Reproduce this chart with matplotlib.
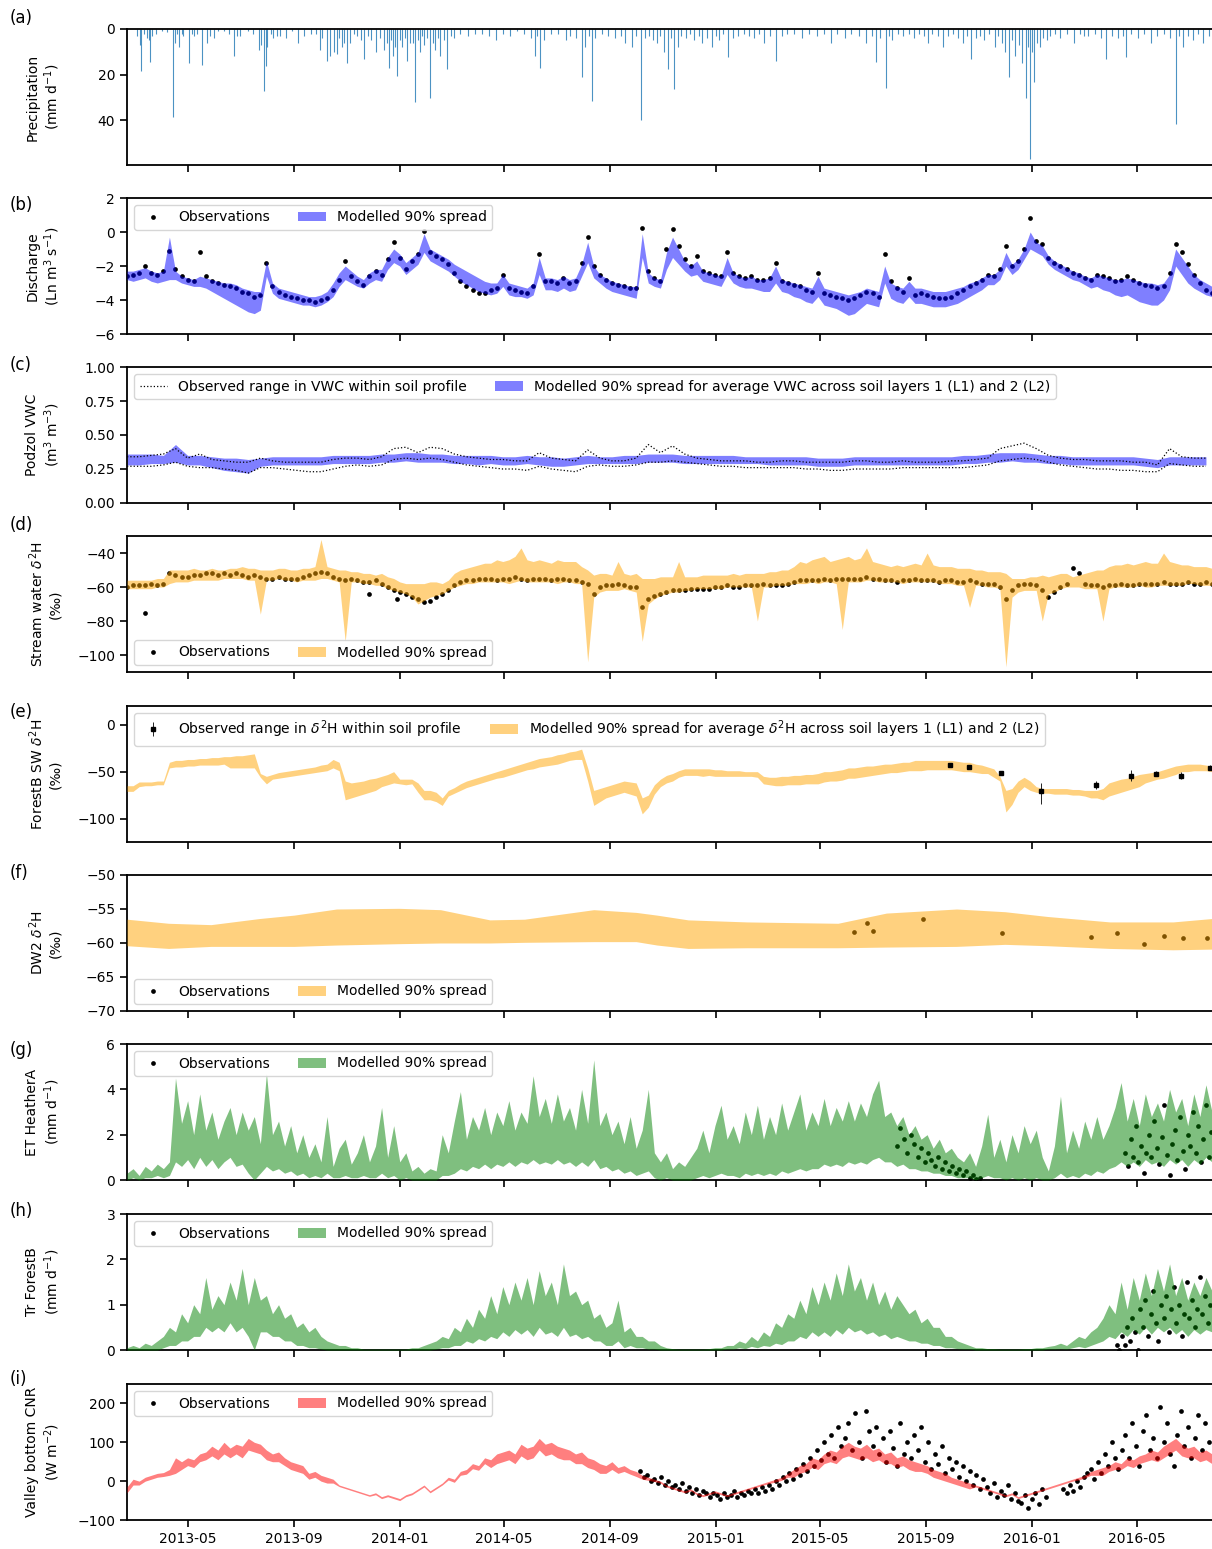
import numpy as np
import pandas as pd
import matplotlib
matplotlib.use('Agg')
import matplotlib.pyplot as plt
import matplotlib.dates as mdates

# time axis: everything is indexed from the start date of the run
START = pd.Timestamp('2013-02-20')
END = pd.Timestamp('2016-07-27')

# ---------------- (a) precipitation, (day since START, mm/d)
precip_events = [
    (11, 3), (15, 7), (16, 18.3), (20, 2), (23, 4), (25, 5), (27, 14.6), (29, 3), (34, 2), (40, 1),
    (46, 1.5), (53, 38.7), (55, 6), (58, 2), (60, 8), (63, 2), (65, 3), (72, 15), (75, 2), (77, 3),
    (81, 2), (87, 15.8), (92, 6), (96, 3), (100, 4), (105, 1), (112, 1), (118, 2), (123, 12), (127, 3),
    (131, 3), (140, 1), (146, 2), (153, 9), (155, 7), (158, 27.3), (160, 16), (162, 8), (166, 2), (169, 4),
    (173, 3), (177, 3), (184, 4), (190, 1), (198, 6), (204, 3), (212, 2), (218, 2), (223, 9), (225, 4),
    (231, 14), (235, 12), (239, 10), (242, 11), (245, 4), (248, 8), (251, 6), (254, 15), (258, 6), (262, 2),
    (266, 3), (270, 5), (274, 13), (278, 3), (282, 5), (287, 10), (292, 4), (297, 9), (300, 6), (302, 17),
    (305, 5), (307, 12), (310, 8), (312, 20.5), (315, 5), (318, 8), (321, 4), (323, 14), (327, 6), (330, 6),
    (333, 32), (336, 5), (338, 10), (341, 3), (343, 7), (346, 4), (350, 30.4), (353, 6), (356, 9), (359, 4),
    (362, 12), (366, 5), (370, 17.5), (374, 3), (378, 4), (385, 2), (394, 3), (402, 2), (410, 2), (418, 3),
    (426, 5), (434, 2), (442, 3), (450, 1), (458, 2), (466, 4), (471, 12), (474, 3), (477, 17), (482, 5),
    (490, 2), (498, 2), (507, 5), (512, 3), (518, 4), (525, 21), (529, 8), (533, 3), (537, 31.4), (541, 4),
    (548, 2), (555, 3), (563, 4), (570, 3), (575, 6), (583, 8), (588, 3), (594, 40), (598, 4), (603, 3),
    (607, 5), (612, 6), (616, 3), (620, 10), (625, 17.5), (628, 4), (632, 26.3), (636, 8), (640, 3), (645, 4),
    (650, 2), (655, 5), (660, 3), (664, 6), (670, 4), (676, 8), (680, 3), (684, 5), (688, 2), (694, 12.4),
    (700, 4), (706, 3), (712, 2), (718, 3), (724, 4), (730, 2), (736, 6), (742, 3), (749, 13.9), (756, 3),
    (762, 2), (770, 2), (780, 4), (788, 2), (797, 3), (805, 2), (813, 6), (820, 2), (829, 4), (836, 2),
    (845, 3), (853, 6), (860, 3), (865, 14.6), (870, 4), (877, 26), (880, 3), (884, 5), (890, 2), (896, 3),
    (903, 2), (909, 4), (915, 2), (920, 3), (925, 6), (930, 2), (936, 3), (942, 8), (948, 3), (954, 2),
    (960, 4), (966, 6), (970, 3), (975, 13.2), (980, 4), (985, 3), (990, 5), (995, 2), (1002, 8), (1006, 3),
    (1010, 6), (1014, 10), (1018, 21.2), (1022, 5), (1026, 12), (1030, 7), (1034, 15), (1038, 30), (1041, 8), (1043, 56.7),
    (1045, 10), (1048, 23.4), (1051, 6), (1054, 8), (1058, 4), (1062, 5), (1066, 3), (1072, 2), (1078, 4), (1085, 2),
    (1094, 6), (1100, 2), (1105, 3), (1110, 3), (1118, 2), (1125, 4), (1131, 13.2), (1137, 3), (1144, 4), (1150, 3),
    (1154, 12.4), (1160, 2), (1167, 4), (1175, 2), (1183, 6), (1190, 3), (1198, 2), (1205, 4), (1211, 41.7), (1215, 3),
    (1219, 8), (1225, 3), (1231, 5), (1237, 2), (1243, 6), (1249, 3),
]

# ---------------- (b) discharge, weekly values (Ln m3/s)
b_obs = [
    -2.6, -2.5, -2.4, -2.0, -2.4, -2.5, -2.3, -1.1, -2.2, -2.6,
    -2.8, -2.9, -1.2, -2.6, -2.9, -3.0, -3.1, -3.2, -3.3, -3.5,
    -3.6, -3.8, -3.7, -1.8, -3.2, -3.5, -3.7, -3.8, -3.9, -4.0,
    -4.0, -4.1, -4.0, -3.9, -3.4, -2.8, -1.7, -2.6, -2.9, -3.1,
    -2.6, -2.3, -2.5, -1.6, -0.6, -1.5, -2.2, -1.7, -1.3, 0.05,
    -1.2, -1.4, -1.6, -1.9, -2.4, -2.9, -3.2, -3.4, -3.6, -3.6,
    -3.4, -3.3, -2.5, -3.3, -3.4, -3.5, -3.6, -3.2, -1.3, -2.9,
    -2.9, -3.0, -2.7, -3.0, -2.9, -1.8, -0.3, -2.0, -2.5, -2.8,
    -3.0, -3.1, -3.2, -3.3, -3.3, 0.25, -2.3, -2.7, -2.9, -1.0,
    0.15, -0.8, -1.6, -2.0, -1.4, -2.3, -2.4, -2.5, -2.6, -1.2,
    -2.4, -2.6, -2.7, -2.6, -2.8, -2.8, -2.7, -1.8, -2.9, -3.0,
    -3.1, -3.2, -3.4, -3.5, -2.4, -3.6, -3.7, -3.8, -3.9, -4.0,
    -3.9, -3.7, -3.5, -3.6, -3.8, -1.3, -2.9, -3.3, -3.5, -2.7,
    -3.7, -3.6, -3.7, -3.8, -3.9, -3.9, -3.8, -3.6, -3.4, -3.2,
    -3.0, -2.8, -2.5, -2.6, -2.2, -0.8, -2.0, -1.7, -1.0, 0.8,
    -0.5, -0.7, -1.5, -1.8, -2.0, -2.2, -2.4, -2.5, -2.7, -2.8,
    -2.5, -2.6, -2.7, -2.9, -2.8, -2.6, -2.8, -3.0, -3.1, -3.2,
    -3.3, -3.2, -2.4, -0.7, -1.2, -1.9, -2.5, -3.0, -3.4, -3.6,
]
b_hi = [
    -2.3, -2.3, -2.2, -2.1, -2.3, -2.4, -2.3, -0.3, -2.3, -2.6,
    -2.7, -2.8, -2.6, -2.7, -2.8, -2.9, -3.0, -3.0, -3.1, -3.3,
    -3.4, -3.5, -3.5, -1.7, -3.0, -3.3, -3.4, -3.5, -3.6, -3.7,
    -3.8, -3.8, -3.7, -3.5, -3.0, -2.4, -2.0, -2.3, -2.6, -2.8,
    -2.4, -2.2, -2.2, -1.5, -1.0, -1.3, -1.8, -1.5, -1.2, -0.1,
    -1.0, -1.2, -1.4, -1.6, -1.9, -2.1, -2.3, -2.5, -2.7, -2.9,
    -3.0, -3.0, -2.5, -3.0, -3.1, -3.2, -3.3, -3.0, -1.5, -2.7,
    -2.7, -2.8, -2.6, -2.8, -2.7, -1.9, -0.6, -2.0, -2.5, -2.7,
    -2.9, -3.0, -3.1, -3.2, -3.2, -0.1, -2.4, -2.7, -2.8, -1.2,
    -0.3, -1.0, -1.7, -2.0, -1.7, -2.3, -2.4, -2.5, -2.6, -1.5,
    -2.4, -2.6, -2.7, -2.6, -2.8, -2.8, -2.7, -2.0, -2.8, -2.9,
    -3.0, -3.1, -3.2, -3.3, -2.6, -3.3, -3.4, -3.5, -3.6, -3.7,
    -3.6, -3.5, -3.3, -3.4, -3.5, -2.0, -3.0, -3.2, -3.3, -2.9,
    -3.3, -3.3, -3.4, -3.5, -3.5, -3.5, -3.4, -3.3, -3.2, -3.0,
    -2.9, -2.7, -2.5, -2.5, -2.2, -1.2, -1.9, -1.6, -1.0, 0.0,
    -0.6, -0.8, -1.4, -1.7, -1.9, -2.1, -2.3, -2.4, -2.6, -2.7,
    -2.5, -2.6, -2.7, -2.8, -2.8, -2.7, -2.8, -2.9, -3.0, -3.0,
    -3.1, -3.0, -2.5, -1.0, -1.5, -2.0, -2.5, -2.8, -3.0, -3.2,
]
b_lo = [
    -2.8, -2.9, -2.8, -2.7, -2.9, -3.0, -2.9, -2.8, -2.8, -3.0,
    -3.1, -3.2, -3.2, -3.3, -3.5, -3.7, -3.9, -4.1, -4.3, -4.5,
    -4.7, -4.8, -4.6, -2.6, -3.6, -3.9, -4.0, -4.1, -4.2, -4.3,
    -4.3, -4.4, -4.3, -4.1, -3.8, -3.2, -2.8, -3.0, -3.2, -3.3,
    -3.0, -2.8, -2.9, -2.2, -1.8, -2.0, -2.5, -2.2, -1.9, -1.2,
    -1.7, -1.9, -2.1, -2.3, -2.6, -2.9, -3.1, -3.3, -3.5, -3.6,
    -3.7, -3.6, -3.2, -3.7, -3.8, -3.8, -3.9, -3.7, -2.5, -3.4,
    -3.4, -3.5, -3.3, -3.5, -3.4, -2.6, -1.8, -2.7, -3.0, -3.3,
    -3.5, -3.6, -3.7, -3.8, -3.9, -1.5, -3.0, -3.2, -3.3, -2.2,
    -1.5, -1.9, -2.3, -2.6, -2.5, -2.9, -3.0, -3.1, -3.2, -2.5,
    -3.0, -3.2, -3.3, -3.3, -3.4, -3.5, -3.5, -3.0, -3.5, -3.6,
    -3.8, -3.9, -4.1, -4.2, -3.8, -4.3, -4.4, -4.5, -4.7, -4.9,
    -4.8, -4.5, -4.2, -4.3, -4.4, -3.0, -3.9, -4.1, -4.2, -3.8,
    -4.2, -4.2, -4.3, -4.4, -4.4, -4.4, -4.3, -4.2, -4.0, -3.8,
    -3.6, -3.4, -3.1, -3.1, -2.8, -2.0, -2.5, -2.2, -1.6, -1.0,
    -1.2, -1.4, -1.9, -2.2, -2.4, -2.6, -2.8, -2.9, -3.1, -3.3,
    -3.2, -3.4, -3.5, -3.7, -3.8, -3.7, -3.9, -4.1, -4.2, -4.3,
    -4.3, -4.0, -3.4, -2.0, -2.5, -3.0, -3.3, -3.5, -3.7, -3.8,
]

# ---------------- (c) podzol VWC, fortnightly values
c_hi = [
    .36, .36, .36, .35, .43, .35, .35, .34, .33, .33,
    .32, .33, .34, .34, .34, .34, .34, .35, .35, .35,
    .35, .36, .36, .37, .37, .36, .36, .35, .35, .35,
    .35, .34, .34, .35, .34, .34, .33, .34, .35, .34,
    .34, .35, .35, .36, .36, .36, .35, .35, .35, .35,
    .35, .34, .34, .34, .34, .34, .34, .33, .33, .33,
    .34, .34, .34, .34, .34, .34, .34, .34, .34, .35,
    .35, .36, .37, .37, .37, .36, .35, .35, .34, .34,
    .34, .34, .34, .34, .33, .32, .34, .34, .34, .34,
]
c_lo = [
    .28, .28, .29, .29, .30, .28, .28, .26, .24, .23,
    .22, .27, .28, .28, .28, .28, .28, .29, .29, .29,
    .29, .30, .30, .31, .30, .30, .30, .29, .29, .28,
    .29, .28, .28, .29, .28, .27, .27, .28, .29, .29,
    .29, .29, .29, .30, .30, .30, .29, .29, .29, .29,
    .29, .29, .29, .28, .28, .28, .28, .27, .27, .27,
    .28, .28, .28, .28, .28, .28, .28, .28, .28, .29,
    .29, .30, .30, .31, .30, .30, .29, .29, .28, .28,
    .28, .28, .28, .28, .27, .26, .28, .28, .28, .28,
]
c_obs_max = [
    .34, .34, .35, .36, .40, .33, .36, .32, .31, .30,
    .30, .33, .31, .30, .30, .30, .30, .32, .33, .33,
    .32, .34, .40, .41, .37, .41, .40, .36, .34, .33,
    .32, .32, .31, .31, .37, .33, .32, .31, .39, .33,
    .31, .31, .33, .43, .37, .42, .36, .33, .32, .31,
    .31, .31, .30, .30, .31, .31, .30, .30, .30, .30,
    .31, .31, .30, .30, .31, .30, .30, .30, .31, .31,
    .32, .33, .40, .42, .44, .40, .35, .33, .32, .32,
    .31, .31, .31, .30, .30, .28, .40, .34, .33, .33,
]
c_obs_min = [
    .27, .27, .27, .28, .30, .27, .26, .26, .25, .24,
    .22, .26, .26, .25, .24, .23, .23, .25, .27, .28,
    .27, .28, .32, .33, .32, .33, .32, .30, .28, .27,
    .26, .25, .25, .24, .27, .25, .24, .23, .27, .28,
    .27, .27, .28, .30, .30, .31, .30, .29, .28, .27,
    .27, .26, .26, .26, .26, .26, .25, .25, .24, .24,
    .25, .25, .25, .25, .26, .26, .26, .26, .26, .26,
    .27, .28, .31, .32, .33, .32, .30, .28, .27, .26,
    .25, .25, .24, .24, .23, .23, .29, .28, .27, .27,
]

# ---------------- (d) stream water d2H, weekly values
d_hi = [
    -56, -56, -56, -56, -56, -55, -55, -50, -50, -50,
    -50, -49, -50, -50, -49, -50, -50, -49, -49, -48,
    -49, -49, -50, -50, -50, -49, -49, -50, -50, -49,
    -49, -48, -32, -48, -49, -50, -50, -51, -51, -52,
    -52, -53, -52, -54, -55, -57, -58, -58, -58, -58,
    -57, -57, -58, -56, -52, -50, -49, -48, -47, -46,
    -46, -44, -45, -44, -42, -37, -44, -45, -44, -45,
    -46, -44, -45, -45, -45, -48, -50, -53, -52, -52,
    -53, -45, -52, -53, -52, -55, -55, -55, -54, -54,
    -54, -45, -54, -54, -54, -53, -53, -53, -53, -53,
    -52, -53, -52, -52, -52, -52, -51, -51, -50, -50,
    -48, -45, -46, -44, -43, -42, -45, -44, -43, -42,
    -44, -43, -37, -45, -46, -47, -48, -47, -48, -47,
    -46, -47, -40, -47, -48, -48, -48, -49, -49, -49,
    -50, -50, -51, -51, -51, -52, -55, -55, -55, -54,
    -54, -53, -54, -53, -52, -52, -54, -53, -52, -51,
    -50, -50, -48, -47, -47, -46, -47, -46, -45, -46,
    -46, -40, -45, -46, -47, -47, -48, -48, -48, -49,
]
d_lo = [
    -61, -61, -61, -61, -61, -60, -60, -58, -57, -57,
    -57, -56, -56, -56, -56, -56, -55, -55, -55, -55,
    -56, -56, -76, -56, -56, -55, -56, -56, -57, -56,
    -56, -56, -55, -55, -56, -57, -92, -57, -57, -58,
    -58, -59, -59, -61, -62, -63, -64, -66, -70, -68,
    -66, -65, -64, -62, -60, -59, -58, -58, -57, -57,
    -57, -57, -57, -58, -57, -56, -57, -57, -57, -57,
    -57, -58, -57, -57, -58, -58, -104, -66, -63, -62,
    -62, -62, -61, -62, -63, -92, -70, -67, -65, -64,
    -63, -63, -62, -62, -61, -61, -61, -61, -61, -60,
    -60, -60, -60, -60, -80, -60, -60, -59, -59, -59,
    -58, -58, -58, -57, -58, -57, -57, -58, -85, -57,
    -57, -57, -56, -56, -57, -57, -57, -57, -58, -57,
    -57, -57, -57, -57, -58, -58, -58, -59, -59, -72,
    -59, -59, -60, -60, -61, -107, -66, -63, -62, -62,
    -62, -80, -64, -63, -61, -60, -60, -60, -61, -61,
    -61, -80, -61, -60, -60, -60, -60, -59, -60, -60,
    -59, -59, -59, -59, -59, -58, -58, -59, -59, -59,
]
d_obs = [
    -60, -59, -59, -59, -58, -59, -58, -52, -53, -54,
    -54, -53, -53, -52, -52, -53, -52, -53, -52, -53,
    -54, -53, -54, -55, -55, -54, -55, -55, -55, -54,
    -53, -52, -51, -52, -54, -55, -56, -55, -56, -57,
    -57, -56, -58, -60, -62, -63, -64, -66, -67, -69,
    -68, -66, -64, -62, -59, -57, -56, -56, -55, -55,
    -55, -56, -55, -55, -54, -55, -56, -55, -55, -55,
    -56, -55, -55, -56, -56, -57, -58, -64, -60, -59,
    -59, -58, -59, -60, -60, -72, -67, -65, -64, -63,
    -62, -62, -62, -61, -61, -61, -61, -60, -60, -59,
    -60, -60, -59, -59, -59, -58, -59, -59, -59, -58,
    -57, -56, -56, -56, -56, -55, -56, -55, -55, -55,
    -55, -55, -54, -55, -55, -56, -56, -57, -56, -56,
    -55, -56, -56, -56, -57, -56, -56, -57, -57, -56,
    -57, -58, -58, -58, -60, -67, -62, -59, -58, -58,
    -59, -62, -66, -63, -60, -58, -49, -52, -58, -59,
    -59, -60, -59, -59, -58, -59, -59, -58, -58, -58,
    -58, -57, -58, -58, -58, -57, -58, -58, -57, -58,
]
d_out_day = [21, 280, 312]
d_out = [-75, -64, -67]

# ---------------- (e) ForestB soil water d2H, weekly values
e_hi = [
    -65, -65, -61, -61, -61, -60, -60, -40, -38, -38,
    -37, -37, -36, -36, -35, -35, -34, -34, -33, -33,
    -32, -31, -52, -55, -53, -51, -50, -49, -48, -47,
    -46, -45, -43, -42, -37, -40, -60, -62, -61, -60,
    -58, -57, -55, -53, -50, -58, -58, -58, -62, -70,
    -70, -72, -78, -70, -67, -63, -60, -58, -56, -54,
    -52, -50, -48, -46, -44, -42, -40, -38, -36, -35,
    -34, -32, -31, -29, -28, -26, -46, -70, -68, -66,
    -64, -62, -60, -61, -62, -78, -75, -64, -58, -54,
    -52, -49, -47, -47, -47, -47, -47, -48, -48, -49,
    -49, -49, -50, -50, -50, -55, -56, -56, -55, -55,
    -54, -54, -53, -53, -52, -50, -50, -49, -48, -46,
    -46, -45, -44, -44, -43, -42, -42, -41, -40, -40,
    -38, -38, -38, -38, -38, -38, -38, -39, -40, -40,
    -42, -43, -45, -47, -55, -70, -68, -60, -56, -60,
    -66, -68, -68, -68, -68, -68, -69, -69, -70, -70,
    -70, -68, -62, -60, -58, -57, -55, -53, -52, -51,
    -50, -48, -46, -44, -43, -42, -42, -42, -43, -44,
]
e_lo = [
    -71, -71, -66, -65, -65, -64, -64, -46, -45, -45,
    -44, -44, -43, -43, -43, -43, -42, -46, -46, -46,
    -46, -46, -56, -63, -58, -57, -56, -55, -54, -53,
    -52, -51, -50, -49, -46, -49, -80, -78, -76, -74,
    -72, -70, -66, -64, -62, -63, -64, -63, -72, -80,
    -80, -82, -86, -76, -73, -70, -67, -65, -63, -61,
    -59, -57, -56, -54, -52, -50, -48, -47, -45, -44,
    -43, -42, -40, -38, -37, -37, -60, -86, -82, -78,
    -76, -74, -72, -74, -76, -95, -88, -74, -66, -62,
    -60, -56, -54, -54, -54, -55, -54, -55, -55, -55,
    -55, -55, -55, -55, -56, -63, -64, -65, -65, -64,
    -64, -64, -63, -63, -63, -61, -60, -60, -59, -57,
    -57, -56, -55, -54, -53, -52, -51, -51, -50, -49,
    -49, -49, -48, -48, -48, -48, -48, -49, -50, -50,
    -51, -52, -52, -56, -60, -93, -85, -72, -66, -70,
    -72, -73, -73, -74, -74, -74, -75, -75, -76, -78,
    -78, -80, -76, -74, -72, -70, -68, -66, -62, -60,
    -58, -57, -55, -53, -50, -50, -49, -49, -49, -50,
]
e_obs_day = [951, 972, 1009, 1055, 1119, 1159, 1188, 1217, 1251]
e_obs = [-43, -45, -51, -71, -64, -55, -52, -55, -46]
e_obs_lo = [-44, -47, -53, -85, -68, -60, -54, -58, -48]
e_obs_hi = [-42, -44, -49, -62, -60, -48, -49, -50, -43]

# ---------------- (f) DW2 d2H
f_day = [0, 48, 97, 153, 193, 242, 314, 362, 419, 459, 539, 588,
         612, 648, 716, 821, 877, 958, 1014, 1063, 1135, 1208, 1253]
f_hi = [-56.5, -57.1, -57.3, -56.4, -55.9, -55.0, -54.9, -55.1, -56.6, -56.5, -55.1, -55.5,
        -55.9, -56.6, -56.9, -57.1, -55.6, -55.0, -55.4, -56.1, -56.9, -56.9, -56.4]
f_lo = [-60.4, -60.8, -60.5, -60.5, -60.5, -60.3, -60.1, -60.0, -60.0, -59.9, -59.8, -59.8,
        -60.3, -60.8, -60.7, -60.7, -60.6, -60.5, -60.2, -60.4, -60.8, -61.0, -60.9]
f_obs_day = [839, 855, 862, 919, 1010, 1113, 1143, 1175, 1198, 1219, 1247]
f_obs = [-58.4, -57.0, -58.2, -56.4, -58.6, -59.1, -58.6, -60.2, -59.0, -59.2, -59.3]

# ---------------- (g) ET HeatherA, weekly values (mm/d)
g_hi = [
    0.3, 0.5, 0.2, 0.6, 0.4, 0.7, 0.5, 0.8, 4.5, 2.5,
    3.5, 2.0, 3.8, 2.2, 3.0, 1.8, 2.6, 3.2, 2.0, 3.0,
    2.2, 2.8, 1.6, 4.7, 2.0, 2.6, 1.5, 2.4, 1.2, 2.0,
    1.0, 1.6, 0.8, 2.8, 0.6, 1.4, 1.8, 0.7, 1.2, 2.0,
    0.8, 1.5, 3.2, 1.0, 2.4, 0.8, 1.2, 0.4, 0.6, 0.3,
    0.5, 0.4, 2.0, 1.2, 2.6, 3.9, 1.8, 2.8, 2.2, 3.2,
    2.0, 3.0, 2.4, 3.5, 2.2, 3.0, 2.5, 4.6, 2.8, 3.6,
    2.5, 3.8, 2.6, 3.2, 2.2, 4.0, 2.5, 5.3, 2.4, 3.0,
    2.0, 2.6, 1.6, 2.8, 1.4, 2.2, 4.0, 1.2, 0.8, 1.2,
    0.5, 0.8, 0.6, 1.0, 1.4, 2.2, 1.2, 2.4, 3.3, 1.8,
    2.4, 1.6, 3.0, 2.0, 3.3, 1.8, 2.8, 2.0, 3.4, 2.2,
    3.0, 3.8, 2.2, 3.0, 2.4, 3.6, 2.4, 3.2, 2.6, 3.5,
    2.6, 3.4, 2.8, 3.8, 4.4, 2.8, 3.0, 2.4, 2.8, 2.0,
    2.4, 1.8, 2.0, 1.4, 1.8, 1.2, 1.4, 1.0, 0.8, 1.2,
    0.6, 1.5, 2.9, 1.0, 1.8, 0.8, 2.0, 1.2, 2.4, 1.6,
    2.2, 1.0, 0.4, 1.5, 3.7, 1.2, 2.2, 1.4, 2.6, 1.8,
    2.8, 1.8, 2.4, 3.2, 4.3, 2.6, 3.6, 2.4, 3.8, 2.8,
    3.4, 2.6, 4.0, 3.0, 3.6, 2.4, 3.8, 2.8, 4.2, 3.0,
]
g_lo = [
    0.0, 0.1, 0.0, 0.1, 0.1, 0.2, 0.1, 0.2, 0.8, 0.6,
    0.9, 0.5, 1.0, 0.6, 0.9, 0.5, 0.8, 1.0, 0.6, 0.7,
    0.3, 0.0, 0.3, 0.6, 0.4, 0.5, 0.3, 0.4, 0.2, 0.3,
    0.1, 0.2, 0.1, 0.3, 0.1, 0.1, 0.2, 0.1, 0.1, 0.2,
    0.1, 0.1, 0.3, 0.1, 0.2, 0.0, 0.1, 0.0, 0.0, 0.0,
    0.0, 0.0, 0.2, 0.2, 0.3, 0.5, 0.4, 0.6, 0.5, 0.7,
    0.5, 0.7, 0.6, 0.8, 0.6, 0.8, 0.7, 0.9, 0.7, 0.8,
    0.7, 0.9, 0.7, 0.8, 0.6, 0.8, 0.6, 0.9, 0.5, 0.6,
    0.4, 0.5, 0.3, 0.4, 0.2, 0.3, 0.4, 0.1, 0.0, 0.1,
    0.0, 0.0, 0.0, 0.0, 0.1, 0.2, 0.1, 0.2, 0.3, 0.2,
    0.2, 0.1, 0.3, 0.2, 0.3, 0.2, 0.3, 0.2, 0.4, 0.3,
    0.4, 0.5, 0.4, 0.5, 0.5, 0.7, 0.6, 0.7, 0.6, 0.8,
    0.7, 0.8, 0.7, 0.9, 1.0, 0.8, 0.8, 0.6, 0.7, 0.5,
    0.5, 0.4, 0.4, 0.3, 0.3, 0.2, 0.2, 0.1, 0.1, 0.1,
    0.0, 0.1, 0.2, 0.1, 0.1, 0.0, 0.1, 0.0, 0.1, 0.0,
    0.1, 0.0, 0.0, 0.1, 0.3, 0.1, 0.2, 0.1, 0.3, 0.2,
    0.4, 0.3, 0.5, 0.6, 0.8, 0.6, 0.8, 0.6, 0.9, 0.7,
    0.8, 0.6, 0.9, 0.7, 0.9, 0.6, 0.9, 0.7, 1.0, 0.8,
]
g_obs1 = [1.5, 2.3, 1.8, 1.2, 2.0, 1.6, 1.0, 1.4, 0.8, 1.2,
          0.9, 0.6, 1.0, 0.5, 0.8, 0.4, 0.6, 0.3, 0.5, 0.2,
          0.4, 0.1, 0.2, 0.05, 0.1]                      # every 4 days from day 889
g_obs2 = [1.2, 0.6, 1.8, 1.0, 2.4, 0.8, 1.5, 0.3, 1.2, 2.0,
          1.0, 2.6, 1.4, 0.7, 1.9, 3.3, 1.1, 0.2, 1.6, 2.2,
          0.9, 2.8, 1.3, 0.5, 2.0, 1.5, 3.0, 1.2, 2.4, 0.8,
          1.8, 3.3, 1.0, 2.1]                             # every 3 days from day 1153

# ---------------- (h) Tr ForestB, weekly values (mm/d)
h_hi = [
    0.05, 0.1, 0.05, 0.15, 0.1, 0.2, 0.3, 0.5, 0.4, 0.8,
    0.6, 1.0, 0.8, 1.6, 0.9, 1.2, 1.0, 1.5, 1.1, 1.8,
    1.0, 1.6, 1.1, 1.2, 0.8, 1.0, 0.7, 0.8, 0.5, 0.6,
    0.4, 0.5, 0.3, 0.2, 0.15, 0.1, 0.1, 0.05, 0.05, 0.02,
    0.02, 0.02, 0.02, 0.02, 0.02, 0.02, 0.02, 0.05, 0.05, 0.1,
    0.15, 0.2, 0.3, 0.25, 0.5, 0.4, 0.7, 0.5, 0.9, 0.7,
    1.2, 0.8, 1.4, 1.0, 1.5, 1.1, 1.6, 1.0, 1.75, 1.2,
    1.5, 1.0, 1.9, 1.2, 1.3, 1.0, 1.1, 0.7, 0.8, 0.5,
    0.6, 1.1, 0.4, 0.5, 0.3, 0.3, 0.2, 0.2, 0.1, 0.05,
    0.03, 0.02, 0.02, 0.02, 0.02, 0.02, 0.03, 0.05, 0.05, 0.1,
    0.1, 0.2, 0.15, 0.3, 0.2, 0.4, 0.3, 0.6, 0.5, 0.8,
    0.7, 1.1, 0.8, 1.4, 1.0, 1.5, 1.1, 1.7, 1.2, 1.9,
    1.3, 1.6, 1.1, 1.5, 1.0, 1.3, 0.9, 1.2, 1.0, 0.8,
    0.9, 0.6, 0.7, 0.5, 0.5, 0.3, 0.3, 0.2, 0.15, 0.1,
    0.05, 0.05, 0.03, 0.03, 0.02, 0.02, 0.02, 0.02, 0.03, 0.03,
    0.05, 0.05, 0.08, 0.1, 0.15, 0.1, 0.2, 0.3, 0.25, 0.4,
    0.5, 0.7, 1.0, 0.8, 1.5, 0.9, 1.6, 1.1, 1.7, 1.2,
    1.8, 1.3, 1.9, 1.2, 1.6, 1.1, 1.5, 1.2, 1.6, 1.3,
]
h_lo = [
    0, 0, 0, 0, 0, 0, 0.05, 0.1, 0.1, 0.2,
    0.2, 0.3, 0.3, 0.5, 0.4, 0.5, 0.4, 0.6, 0.4, 0.5,
    0.3, 0.0, 0.4, 0.4, 0.3, 0.3, 0.2, 0.2, 0.1, 0.1,
    0.05, 0.05, 0.02, 0, 0, 0, 0, 0, 0, 0,
    0, 0, 0, 0, 0, 0, 0, 0, 0, 0,
    0, 0.02, 0.05, 0.05, 0.1, 0.1, 0.2, 0.15, 0.25, 0.2,
    0.3, 0.25, 0.4, 0.3, 0.45, 0.35, 0.45, 0.3, 0.5, 0.35,
    0.4, 0.3, 0.5, 0.3, 0.35, 0.25, 0.3, 0.2, 0.2, 0.1,
    0.1, 0.2, 0.05, 0.1, 0.05, 0.05, 0.02, 0.02, 0, 0,
    0, 0, 0, 0, 0, 0, 0, 0, 0, 0.02,
    0.02, 0.05, 0.03, 0.08, 0.05, 0.1, 0.08, 0.15, 0.12, 0.2,
    0.2, 0.3, 0.25, 0.4, 0.3, 0.4, 0.3, 0.45, 0.35, 0.5,
    0.4, 0.45, 0.35, 0.4, 0.3, 0.35, 0.25, 0.3, 0.25, 0.2,
    0.2, 0.15, 0.15, 0.1, 0.1, 0.05, 0.05, 0.03, 0.02, 0.02,
    0, 0, 0, 0, 0, 0, 0, 0, 0, 0,
    0, 0, 0.02, 0.02, 0.03, 0.02, 0.05, 0.08, 0.05, 0.1,
    0.15, 0.2, 0.3, 0.25, 0.4, 0.3, 0.45, 0.35, 0.5, 0.35,
    0.5, 0.4, 0.5, 0.35, 0.45, 0.3, 0.45, 0.35, 0.45, 0.4,
]
h_obs = [0.1, 0.0, 0.3, 0.1, 0.5, 0.2, 0.7, 0.4, 0.0, 0.9,
         0.5, 1.1, 0.3, 0.8, 1.3, 0.6, 0.2, 1.0, 0.7, 1.2,
         0.4, 0.9, 1.4, 0.6, 1.0, 0.3, 0.8, 1.5, 0.7, 1.1,
         0.5, 0.9, 1.6, 0.8, 1.2, 0.6, 1.0]              # every 3 days from day 1143

# ---------------- (i) valley bottom CNR, weekly values (W/m2)
i_hi = [
    -15, 5, 0, 10, 15, 20, 22, 30, 60, 50,
    60, 55, 70, 75, 90, 80, 100, 85, 95, 90,
    110, 100, 95, 80, 70, 75, 60, 50, 45, 40,
    20, 25, 15, 10, 5, -10, -15, -20, -25, -30,
    -35, -30, -40, -35, -40, -45, -35, -30, -20, -10,
    -25, -15, -5, 10, 5, 25, 30, 45, 40, 60,
    55, 70, 75, 80, 70, 95, 85, 90, 110, 95,
    100, 90, 85, 80, 70, 75, 60, 55, 45, 40,
    50, 35, 40, 30, 25, 15, 10, 5, 0, -10,
    -15, -20, -25, -20, -30, -35, -30, -25, -30, -35,
    -30, -25, -20, -15, -10, -5, 0, 5, 10, 20,
    30, 40, 45, 60, 55, 70, 80, 75, 90, 100,
    90, 85, 95, 80, 85, 70, 75, 60, 65, 55,
    50, 45, 40, 30, 25, 20, 10, 5, 0, -5,
    -10, -15, -20, -25, -30, -35, -30, -40, -35, -30,
    -25, -20, -15, -10, -5, 0, 5, 10, 15, 25,
    30, 35, 40, 50, 45, 60, 55, 65, 70, 80,
    75, 90, 100, 110, 95, 85, 90, 75, 80, 70,
]
i_lo = [
    -30, -10, -10, 0, 5, 10, 12, 15, 20, 30,
    40, 35, 50, 55, 65, 55, 70, 60, 70, 60,
    80, 75, 70, 55, 50, 50, 40, 30, 25, 20,
    5, 10, 0, -5, -5, -14, -19, -24, -29, -34,
    -39, -35, -45, -40, -45, -50, -40, -35, -25, -15,
    -30, -20, -10, 3, -3, 15, 18, 32, 28, 45,
    35, 45, 50, 55, 45, 65, 55, 60, 80, 65,
    70, 60, 55, 55, 45, 45, 35, 30, 20, 20,
    30, 20, 25, 18, 12, 5, 2, -1, -5, -15,
    -20, -25, -30, -25, -35, -40, -35, -30, -35, -40,
    -35, -30, -25, -20, -15, -10, -6, -2, 2, 10,
    10, 20, 25, 35, 30, 45, 50, 45, 60, 65,
    60, 55, 60, 50, 55, 45, 45, 35, 40, 30,
    25, 25, 20, 10, 5, 0, -5, -10, -15, -20,
    -15, -20, -25, -30, -35, -40, -35, -45, -40, -35,
    -30, -25, -20, -15, -10, -5, 0, 3, 8, 15,
    15, 15, 25, 30, 30, 40, 35, 45, 50, 55,
    50, 60, 70, 80, 65, 60, 60, 50, 55, 45,
]
# every 4 days from day 593 (nan = no measurement)
i_obs = [
    25, 10, 15, 0, 5, -5, 10, -10, 0, -15,
    -10, -20, -5, -25, -15, -30, -20, -35, -25, -30,
    -40, -30, -35, -45, -30, -40, -35, -25, -40, -30,
    -35, -25, -30, -20, -30, -15, -25, -10, -20, 0,
    -10, 10, 0, 20, 5, 30, 15, 45, 25, 60,
    40, 80, 55, 100, 70, 120, 60, 140, 90, 110,
    150, 80, 175, 100, 60, 180, 130, 90, 140, 70,
    110, 50, 130, 85, 40, 150, 70, 100, 60, 120,
    80, 140, 50, 100, 30, 70, 45, 90, 20, 60,
    30, 50, 10, 40, 0, 25, -10, 15, -20, 5,
    -15, -30, -5, -40, -25, -35, -10, -45, -30, -50,
    -55, -35, -70, -45, -30, -60, -20, -40, np.nan, np.nan,
    np.nan, np.nan, -20, -30, -10, -25, 0, -15, 10, 20,
    30, 5, 50, 20, 70, 40, 100, 60, 30, 80,
    120, 60, 150, 90, 40, 130, 170, 80, 110, 60,
    190, 100, 150, 70, 40, 120, 180, 90, 140, 60,
    110, 170, 80, 150, 100,
]


def on_days(d):
    return START + pd.to_timedelta(np.asarray(d, dtype=float), unit='D')


weekly = pd.date_range(START, periods=len(b_obs), freq='7D')
fortnight = pd.date_range(START, periods=len(c_hi), freq='14D')

plt.rcParams.update({
    'font.family': ['DejaVu Sans'],
    'font.size': 10,
    'axes.linewidth': 1.3,
    'xtick.major.size': 5,
    'ytick.major.size': 5,
    'xtick.major.width': 1.2,
    'ytick.major.width': 1.2,
    'legend.fontsize': 10,
})

W, H = 1212, 1549
fig = plt.figure(figsize=(W / 100, H / 100), dpi=100)
tops = [29, 198, 367, 536, 706, 875, 1044, 1214, 1384]
label_y = [18, 205, 365, 525, 712, 873, 1050, 1211, 1379]
axes = []
for t in tops:
    ax = fig.add_axes([127 / W, 1 - (t + 136) / H, (W - 127) / W, 136 / H],
                      sharex=axes[0] if axes else None)
    axes.append(ax)
ax_a, ax_b, ax_c, ax_d, ax_e, ax_f, ax_g, ax_h, ax_i = axes

OBS = dict(marker='o', ls='none', color='k', ms=3.4, mew=0, label='Observations', zorder=2)
SPREAD = 'Modelled 90% spread'

# (a) precipitation, hanging bars
p_day, p_mm = zip(*precip_events)
ax_a.vlines(on_days(p_day), 0, p_mm, color='#1f77b4', lw=0.8, alpha=0.8)
ax_a.set_ylim(59.5, 0)
ax_a.set_yticks([0, 20, 40])
ax_a.set_ylabel('Precipitation\n(mm d$^{-1}$)')

# (b) discharge
ax_b.plot(weekly, b_obs, **OBS)
ax_b.fill_between(weekly, b_lo, b_hi, color='blue', alpha=0.5, lw=0, label=SPREAD, zorder=3)
ax_b.set_ylim(-6, 2)
ax_b.set_yticks([-6, -4, -2, 0, 2])
ax_b.set_ylabel('Discharge\n(Ln m$^3$ s$^{-1}$)')
ax_b.legend(loc='upper left', ncol=2)

# (c) podzol VWC
ax_c.plot(fortnight, c_obs_max, ':', color='k', lw=0.9,
          label='Observed range in VWC within soil profile')
ax_c.plot(fortnight, c_obs_min, ':', color='k', lw=0.9)
ax_c.fill_between(fortnight, c_lo, c_hi, color='blue', alpha=0.5, lw=0,
                  label='Modelled 90% spread for average VWC across soil layers 1 (L1) and 2 (L2)')
ax_c.set_ylim(0, 1)
ax_c.set_yticks([0, 0.25, 0.5, 0.75, 1.0])
ax_c.set_ylabel('Podzol VWC\n(m$^3$ m$^{-3}$)')
ax_c.legend(loc='upper left', ncol=2)

# (d) stream water isotopes
ax_d.plot(weekly, d_obs, **OBS)
ax_d.plot(on_days(d_out_day), d_out, marker='o', ls='none', color='k', ms=3.4, mew=0, zorder=2)
ax_d.fill_between(weekly, d_lo, d_hi, color='orange', alpha=0.5, lw=0, label=SPREAD, zorder=3)
ax_d.set_ylim(-110, -30)
ax_d.set_yticks([-100, -80, -60, -40])
ax_d.set_ylabel('Stream water $\\delta^2$H\n(‰)')
ax_d.legend(loc='lower left', ncol=2)

# (e) ForestB soil water isotopes
e_err = [np.array(e_obs) - np.array(e_obs_lo), np.array(e_obs_hi) - np.array(e_obs)]
eb = ax_e.errorbar(on_days(e_obs_day), e_obs, yerr=e_err, fmt='s', color='k', ms=2.5,
                   elinewidth=0.6, capsize=0, zorder=4,
                   label='Observed range in $\\delta^2$H within soil profile')
band_e = ax_e.fill_between(weekly, e_lo, e_hi, color='orange', alpha=0.5, lw=0, zorder=3,
                           label='Modelled 90% spread for average $\\delta^2$H across soil layers 1 (L1) and 2 (L2)')
ax_e.set_ylim(-125, 20)
ax_e.set_yticks([-100, -50, 0])
ax_e.set_ylabel('ForestB SW $\\delta^2$H\n(‰)')
ax_e.legend(handles=[eb, band_e], loc='upper left', ncol=2)

# (f) DW2 groundwater isotopes
ax_f.plot(on_days(f_obs_day), f_obs, **OBS)
ax_f.fill_between(on_days(f_day), f_lo, f_hi, color='orange', alpha=0.5, lw=0, label=SPREAD, zorder=3)
ax_f.set_ylim(-70, -50)
ax_f.set_yticks([-70, -65, -60, -55, -50])
ax_f.set_ylabel('DW2 $\\delta^2$H\n(‰)')
ax_f.legend(loc='lower left', ncol=2)

# (g) ET HeatherA
ax_g.plot(on_days(np.arange(889, 889 + 4 * len(g_obs1), 4)), g_obs1, **OBS)
ax_g.plot(on_days(np.arange(1153, 1153 + 3 * len(g_obs2), 3)), g_obs2,
          marker='o', ls='none', color='k', ms=3.4, mew=0, zorder=2)
ax_g.fill_between(weekly, g_lo, g_hi, color='green', alpha=0.5, lw=0, label=SPREAD, zorder=3)
ax_g.set_ylim(0, 6)
ax_g.set_yticks([0, 2, 4, 6])
ax_g.set_ylabel('ET HeatherA\n(mm d$^{-1}$)')
ax_g.legend(loc='upper left', ncol=2)

# (h) transpiration ForestB
ax_h.plot(on_days(np.arange(1143, 1143 + 3 * len(h_obs), 3)), h_obs, **OBS)
ax_h.fill_between(weekly, h_lo, h_hi, color='green', alpha=0.5, lw=0, label=SPREAD, zorder=3)
ax_h.set_ylim(0, 3)
ax_h.set_yticks([0, 1, 2, 3])
ax_h.set_ylabel('Tr ForestB\n(mm d$^{-1}$)')
ax_h.legend(loc='upper left', ncol=2)

# (i) net radiation
ax_i.plot(on_days(np.arange(593, 593 + 4 * len(i_obs), 4)), i_obs, **OBS)
ax_i.fill_between(weekly, i_lo, i_hi, color='red', alpha=0.5, lw=0, label=SPREAD, zorder=3)
ax_i.set_ylim(-100, 250)
ax_i.set_yticks([-100, 0, 100, 200])
ax_i.set_ylabel('Valley bottom CNR\n(W m$^{-2}$)')
ax_i.legend(loc='upper left', ncol=2)

for ax, yc, tag in zip(axes, label_y, 'abcdefghi'):
    ax.spines['right'].set_visible(False)
    ax.yaxis.set_label_coords(-0.06, 0.5)
    ax.set_xlim(START, END)
    fig.text(10 / W, 1 - yc / H, '(%s)' % tag, fontsize=12, va='center', ha='left')
for ax in axes[:-1]:
    ax.tick_params(labelbottom=False)

ax_i.xaxis.set_major_locator(mdates.MonthLocator(bymonth=[1, 5, 9]))
ax_i.xaxis.set_major_formatter(mdates.DateFormatter('%Y-%m'))

fig.savefig('out.png', dpi=100)
